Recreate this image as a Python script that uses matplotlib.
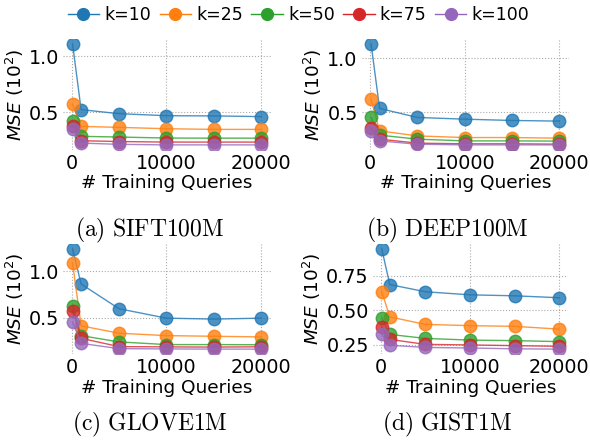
import matplotlib
matplotlib.use("Agg")
import matplotlib.pyplot as plt
from matplotlib.ticker import MultipleLocator
from matplotlib.lines import Line2D

# training query counts on the x axis
queries = [100, 1000, 5000, 10000, 15000, 20000]
k_values = [10, 25, 50, 75, 100]
colors = ['#1f77b4', '#ff7f0e', '#2ca02c', '#d62728', '#9467bd']

# MSE (x10^2), one list per k
sift_k10 = [1.11, 0.524, 0.488, 0.47, 0.468, 0.462]
sift_k25 = [0.571, 0.375, 0.366, 0.354, 0.348, 0.348]
sift_k50 = [0.42, 0.286, 0.28, 0.271, 0.27, 0.27]
sift_k75 = [0.375, 0.247, 0.24, 0.235, 0.235, 0.235]
sift_k100 = [0.354, 0.226, 0.215, 0.21, 0.21, 0.21]

deep_k10 = [1.135, 0.537, 0.454, 0.438, 0.426, 0.42]
deep_k25 = [0.623, 0.33, 0.283, 0.268, 0.268, 0.262]
deep_k50 = [0.454, 0.29, 0.253, 0.237, 0.237, 0.235]
deep_k75 = [0.352, 0.253, 0.216, 0.21, 0.21, 0.207]
deep_k100 = [0.33, 0.237, 0.206, 0.2, 0.2, 0.2]

glove_k10 = [1.243, 0.863, 0.595, 0.493, 0.483, 0.493]
glove_k25 = [1.09, 0.41, 0.33, 0.304, 0.297, 0.29]
glove_k50 = [0.63, 0.304, 0.236, 0.207, 0.207, 0.205]
glove_k75 = [0.573, 0.275, 0.185, 0.182, 0.18, 0.183]
glove_k100 = [0.453, 0.22, 0.163, 0.16, 0.158, 0.158]

gist_k10 = [0.942, 0.685, 0.633, 0.611, 0.604, 0.59]
gist_k25 = [0.635, 0.452, 0.398, 0.389, 0.384, 0.364]
gist_k50 = [0.446, 0.326, 0.297, 0.285, 0.281, 0.274]
gist_k75 = [0.381, 0.29, 0.254, 0.25, 0.245, 0.24]
gist_k100 = [0.326, 0.248, 0.232, 0.228, 0.222, 0.22]

panels = [
    ("(a)\\ SIFT100M", [sift_k10, sift_k25, sift_k50, sift_k75, sift_k100], 0.5),
    ("(b)\\ DEEP100M", [deep_k10, deep_k25, deep_k50, deep_k75, deep_k100], 0.5),
    ("(c)\\ GLOVE1M", [glove_k10, glove_k25, glove_k50, glove_k75, glove_k100], 0.5),
    ("(d)\\ GIST1M", [gist_k10, gist_k25, gist_k50, gist_k75, gist_k100], 0.25),
]

# axes boxes [left, bottom, width, height] and caption centres (figure coords)
boxes = [
    [0.107, 0.660, 0.352, 0.252],
    [0.613, 0.660, 0.351, 0.252],
    [0.107, 0.197, 0.352, 0.250],
    [0.632, 0.197, 0.331, 0.250],
]
captions_xy = [(0.254, 0.477), (0.758, 0.477), (0.254, 0.038), (0.758, 0.038)]

fig = plt.figure(figsize=(5.9, 4.41), dpi=100)

for (title, series, step), box, cxy in zip(panels, boxes, captions_xy):
    ax = fig.add_axes(box)
    for vals, c in zip(series, colors):
        ax.plot(queries, vals, marker='o', markersize=9, lw=1, color=c, alpha=0.8)
    for s in ax.spines.values():
        s.set_visible(False)
    ax.grid(True, linestyle=':', color='#aaaaaa', linewidth=0.8)
    ax.set_axisbelow(True)
    ax.set_xticks([0, 10000, 20000])
    ax.yaxis.set_major_locator(MultipleLocator(step))
    if step == 0.25:
        ax.yaxis.set_major_formatter(plt.FormatStrFormatter('%.2f'))
    else:
        ax.yaxis.set_major_formatter(plt.FormatStrFormatter('%.1f'))
    ax.tick_params(length=0, labelsize=13.8, pad=3)
    ax.set_xlabel('# Training Queries', fontsize=13.3, labelpad=1)
    ax.set_ylabel('$MSE$ ($10^2$)', fontsize=13.3, labelpad=2)
    fig.text(cxy[0], cxy[1], '$\\mathrm{' + title + '}$',
             ha='center', va='center', fontsize=17, math_fontfamily='cm')

handles = [Line2D([0], [0], color=c, marker='o', markersize=8.5, lw=1)
           for c in colors]
fig.legend(handles, ['k=%d' % k for k in k_values], loc='center',
           bbox_to_anchor=(0.506, 0.966), ncol=5, frameon=False, fontsize=12.5,
           handlelength=1.8, handletextpad=0.3, columnspacing=0.5)

fig.savefig('out.png', dpi=100)
